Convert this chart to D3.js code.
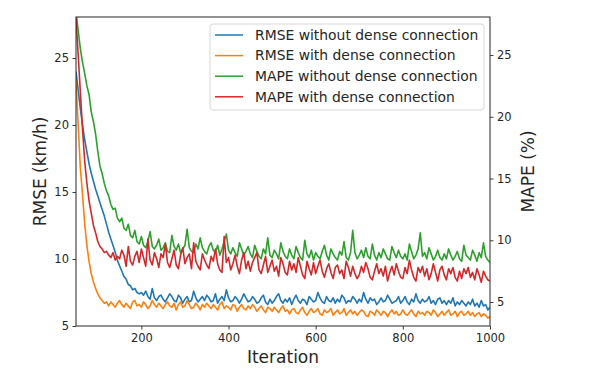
<!DOCTYPE html>
<html lang="en">
<head>
<meta charset="utf-8">
<title>RMSE / MAPE vs iteration</title>
<script src="https://d3js.org/d3.v7.min.js"></script>
<style>
  body { margin: 0; background: #fff; }
  text { font-family: "DejaVu Sans", sans-serif; fill: #262626; }
</style>
</head>
<body>
<script>
// iterations 50..1000, one sample every 5 iterations
const iterStart = 50, iterStep = 5;

const rmseWithout = [
  24.0, 22.6, 21.2, 20.0, 18.9, 18.0, 17.1, 16.4, 15.8, 15.2,
  14.7, 14.2, 13.7, 13.2, 12.6, 12.0, 11.5, 11.0, 10.5, 9.9,
  9.5, 9.1, 8.7, 8.5, 8.1, 8.0, 7.7, 7.8, 7.5, 7.4,
  7.5, 7.3, 7.6, 7.2, 7.0, 7.8, 7.1, 6.9, 7.2, 7.3,
  7.0, 6.8, 7.1, 7.4, 7.2, 6.9, 6.8, 7.3, 7.1, 6.7,
  7.0, 7.2, 6.8, 6.9, 7.6, 7.1, 6.8, 7.0, 7.2, 6.9,
  7.3, 7.1, 6.8, 6.9, 7.4, 6.7, 7.0, 7.2, 6.9, 7.7,
  7.1, 6.8, 6.9, 7.2, 7.0, 6.7, 7.0, 7.4, 7.1, 6.8,
  6.9, 7.2, 7.0, 6.7, 6.8, 7.1, 7.3, 6.8, 6.6, 7.0,
  6.7, 6.9, 7.2, 7.4, 6.9, 6.7, 7.0, 6.8, 7.1, 6.6,
  7.0, 7.3, 6.9, 6.7, 7.0, 6.9, 6.6, 7.2, 7.0, 6.8,
  6.9, 7.5, 7.1, 6.8, 6.7, 7.2, 6.9, 6.8, 7.1, 6.7,
  7.0, 6.8, 7.3, 7.1, 6.7, 6.9, 6.8, 7.2, 7.0, 6.7,
  7.0, 6.8, 7.5, 7.0, 6.7, 7.1, 6.9, 7.0, 6.6, 6.8,
  7.1, 6.8, 6.9, 7.3, 7.0, 6.7, 6.8, 6.9, 7.2, 6.7,
  6.9, 7.2, 6.8, 6.6, 7.0, 6.8, 7.4, 6.9, 6.7, 7.0,
  6.8, 6.9, 7.2, 6.7, 6.9, 6.6, 7.0, 7.1, 6.7, 6.9,
  6.6, 6.9, 6.7, 7.1, 6.5, 6.8, 6.6, 6.9, 6.7, 6.5,
  6.8, 6.6, 7.0, 6.5, 6.7, 6.4, 6.9, 6.5, 6.6, 6.2,
  6.4
];

const rmseWith = [
  23.3, 20.0, 16.8, 14.8, 12.6, 11.0, 9.8, 8.9, 8.3, 7.8,
  7.4, 7.1, 6.9, 6.7, 6.8, 6.5, 6.8, 6.6, 6.4, 6.7,
  6.9, 6.6, 6.4, 6.7, 6.5, 6.3, 6.8, 6.9, 6.5, 6.6,
  6.4, 6.8, 6.6, 6.3, 6.5, 6.9, 6.6, 6.4, 6.7, 6.5,
  6.3, 6.6, 6.8, 6.5, 6.4, 6.7, 6.2, 6.6, 6.8, 6.4,
  6.5, 6.9, 6.6, 6.3, 6.4, 6.7, 6.5, 6.2, 6.6, 6.4,
  6.7, 6.5, 6.3, 6.6, 6.4, 6.2, 6.6, 6.8, 6.3, 6.5,
  6.4, 6.2, 6.6, 6.5, 6.1, 6.4, 6.6, 6.3, 6.2, 6.5,
  6.3, 6.6, 6.4, 6.1, 6.3, 6.5, 6.2, 6.0, 6.4, 6.3,
  6.1, 6.4, 6.2, 6.0, 6.3, 6.5, 6.1, 6.2, 5.9, 6.2,
  6.3, 6.0, 5.9, 6.2, 6.4, 6.0, 5.8, 6.1, 6.3, 6.0,
  6.1, 6.3, 5.9, 5.8, 6.2, 6.0, 6.1, 6.3, 5.8, 6.0,
  6.2, 5.9, 6.0, 6.3, 5.8, 6.0, 6.2, 5.9, 6.1, 5.8,
  6.0, 6.2, 6.1, 5.8, 5.7, 6.1, 6.0, 5.8, 6.2, 6.0,
  5.8, 6.1, 6.0, 5.7, 6.0, 6.2, 5.9, 6.1, 5.8, 5.9,
  6.2, 5.9, 5.8, 6.0, 6.2, 5.9, 5.7, 6.1, 5.9, 6.0,
  5.8, 6.1, 6.0, 5.8, 6.2, 6.0, 5.7, 5.9, 6.1, 5.8,
  6.0, 6.2, 5.8, 5.9, 6.1, 5.7, 6.0, 6.1, 5.8, 5.9,
  6.1, 5.8, 6.0, 5.7, 5.9, 6.0, 5.7, 5.9, 5.8, 5.6,
  5.7
];

const mapeWithout = [
  28.5, 27.0, 25.5, 24.4, 23.5, 22.5, 21.8, 20.4, 19.6, 18.6,
  17.2, 16.0, 15.4, 14.6, 14.0, 13.6, 12.9, 12.5, 12.6, 11.8,
  11.5, 11.8, 11.0, 10.8, 11.3, 10.4, 10.2, 10.8, 9.9, 9.7,
  10.3, 9.6, 9.4, 9.9, 10.7, 9.5, 9.3, 9.6, 10.1, 9.2,
  9.4, 9.8, 9.1, 9.0, 10.4, 9.5, 9.2, 9.7, 9.0, 9.3,
  9.6, 10.9, 9.4, 9.1, 9.0, 9.7, 9.3, 10.2, 9.4, 9.1,
  8.9, 9.5, 9.8, 9.2, 9.0, 9.6, 8.8, 9.3, 9.9, 10.5,
  9.2, 8.9, 9.4, 9.0, 8.7, 9.8, 9.3, 8.8, 9.1, 9.5,
  8.9, 8.6, 9.6, 9.1, 8.7, 8.5, 9.3, 8.9, 10.2, 8.8,
  8.6, 9.2, 8.9, 8.5, 9.8, 9.1, 8.7, 8.5, 9.3, 8.8,
  8.5, 9.5, 9.0, 8.6, 8.4, 10.0, 8.9, 8.6, 9.2, 8.4,
  9.0, 8.7, 8.5, 9.1, 9.6, 8.8, 8.4, 9.3, 8.9, 8.6,
  8.4, 9.1, 8.8, 9.9, 8.6, 8.4, 9.0, 10.8, 9.0, 8.5,
  8.8, 9.2, 8.6, 9.4, 8.7, 8.5, 9.7, 8.8, 8.4, 9.0,
  8.6, 9.3, 8.9, 8.5, 8.4, 9.5, 9.0, 8.6, 9.2, 8.7,
  8.5, 8.9, 8.4, 9.7, 9.1, 8.5, 8.8, 9.3, 10.6, 8.7,
  9.0, 8.5, 9.4, 8.9, 8.4, 8.7, 9.2, 8.6, 8.4, 8.9,
  8.5, 9.3, 8.8, 8.4, 8.7, 9.1, 8.5, 8.3, 9.6, 8.8,
  8.6, 8.4, 9.2, 8.8, 8.3, 9.0, 8.6, 9.8, 8.7, 8.4,
  8.2
];

const mapeWith = [
  28.0, 25.0, 22.0, 19.0, 16.4, 14.6, 13.2, 12.2, 11.2, 10.6,
  9.9, 9.5, 9.3, 9.0, 9.1, 8.8, 8.6, 9.0, 8.4, 8.7,
  8.5, 9.2, 8.8, 7.9, 9.5, 8.3, 8.0, 8.7, 9.1, 8.2,
  9.3, 8.6, 7.9, 10.1, 8.4, 8.0, 9.0, 8.5, 7.8, 8.9,
  8.6, 9.7, 8.2, 7.8, 8.5, 9.2, 8.0, 7.7, 8.8, 9.4,
  8.1, 8.6, 8.9, 7.7, 9.8, 8.3, 7.9, 7.6, 8.9, 8.4,
  8.0, 7.7, 8.7, 8.3, 9.3, 8.1, 7.6, 7.4, 10.3, 8.2,
  8.6, 7.6, 8.1, 8.8, 7.9, 7.3, 8.4, 9.0, 7.7, 8.3,
  7.5, 8.2, 8.6, 9.0, 7.6, 7.3, 8.0, 8.7, 7.4, 7.9,
  8.4, 7.5, 7.9, 7.1, 8.6, 8.1, 7.4, 7.2, 8.3, 7.6,
  8.1, 7.4, 8.6, 7.9, 7.2, 6.9, 8.3, 7.7, 7.2, 8.2,
  7.3, 7.9, 8.4, 7.5, 7.0, 7.7, 8.1, 7.4, 6.9, 7.8,
  8.0, 7.3, 7.6, 6.9, 8.3, 7.8, 7.1, 7.9, 7.3, 6.9,
  7.2, 7.9, 7.4, 8.2, 7.7, 7.0, 6.8, 7.5, 8.1, 7.3,
  7.7, 7.1, 7.9, 6.7, 7.4, 7.9, 7.2, 8.1, 7.5, 7.0,
  6.9, 7.8, 7.3, 8.4, 7.6, 7.0, 6.7, 7.8, 7.4, 7.9,
  7.1, 7.7, 6.8, 7.3, 8.1, 7.4, 6.7, 7.6, 7.9, 7.2,
  6.8, 7.7, 7.3, 7.8, 7.0, 6.7, 7.5, 6.9, 7.7, 7.3,
  7.8, 7.0, 7.4, 6.8, 7.7, 7.2, 6.6, 7.5, 7.1, 6.8,
  6.7
];

const seriesNames = [
  "RMSE without dense connection",
  "RMSE with dense connection",
  "MAPE without dense connection",
  "MAPE with dense connection"
];
const seriesColors = ["#1f77b4", "#ff7f0e", "#2ca02c", "#d62728"];

const xTicks = [200, 400, 600, 800, 1000];
const leftTicks = [5, 10, 15, 20, 25];
const rightTicks = [5, 10, 15, 20, 25];

const w = 600, h = 373;
const margin = { left: 76, right: 110, top: 17, bottom: 47 };

const svg = d3.select("body").append("svg")
  .attr("width", w)
  .attr("height", h);

const x = d3.scaleLinear().domain([50, 1000]).range([margin.left, w - margin.right]);
const yLeft = d3.scaleLinear().domain([5, 28.06]).range([h - margin.bottom, margin.top]);
const yRight = d3.scaleLinear().domain([3.06, 28.08]).range([h - margin.bottom, margin.top]);

svg.append("clipPath").attr("id", "plot-clip")
  .append("rect")
  .attr("x", margin.left).attr("y", margin.top)
  .attr("width", w - margin.left - margin.right)
  .attr("height", h - margin.top - margin.bottom);

const series = [
  { values: rmseWithout, y: yLeft },
  { values: rmseWith, y: yLeft },
  { values: mapeWithout, y: yRight },
  { values: mapeWith, y: yRight }
];

const plot = svg.append("g").attr("clip-path", "url(#plot-clip)");

series.forEach((s, k) => {
  const line = d3.line()
    .x((d, i) => x(iterStart + i * iterStep))
    .y(d => s.y(d));
  plot.append("path")
    .datum(s.values)
    .attr("fill", "none")
    .attr("stroke", seriesColors[k])
    .attr("stroke-width", 1.6)
    .attr("stroke-linejoin", "round")
    .attr("d", line);
});

// axes
const styleAxis = g => {
  g.selectAll(".domain").remove();
  g.selectAll(".tick line").attr("stroke", "#262626").attr("stroke-width", 0.9);
  g.selectAll(".tick text")
    .style("font-family", "DejaVu Sans, sans-serif")
    .style("font-size", "11.5px")
    .attr("fill", "#262626");
};

svg.append("g")
  .attr("transform", "translate(0," + (h - margin.bottom) + ")")
  .call(d3.axisBottom(x).tickValues(xTicks).tickFormat(d3.format("d")).tickSize(3.5).tickPadding(4))
  .call(styleAxis);

svg.append("g")
  .attr("transform", "translate(" + margin.left + ",0)")
  .call(d3.axisLeft(yLeft).tickValues(leftTicks).tickSize(3.5).tickPadding(3.5))
  .call(styleAxis);

svg.append("g")
  .attr("transform", "translate(" + (w - margin.right) + ",0)")
  .call(d3.axisRight(yRight).tickValues(rightTicks).tickSize(3.5).tickPadding(3.5))
  .call(styleAxis);

// frame
svg.append("rect")
  .attr("x", margin.left).attr("y", margin.top)
  .attr("width", w - margin.left - margin.right)
  .attr("height", h - margin.top - margin.bottom)
  .attr("fill", "none")
  .attr("stroke", "#262626")
  .attr("stroke-width", 1);

// axis labels
svg.append("text")
  .attr("x", (margin.left + w - margin.right) / 2)
  .attr("y", 363)
  .attr("text-anchor", "middle")
  .style("font-size", "17px")
  .text("Iteration");

svg.append("text")
  .attr("transform", "translate(46," + ((margin.top + h - margin.bottom) / 2) + ") rotate(-90)")
  .attr("text-anchor", "middle")
  .style("font-size", "17px")
  .text("RMSE (km/h)");

svg.append("text")
  .attr("transform", "translate(534," + ((margin.top + h - margin.bottom) / 2) + ") rotate(-90)")
  .attr("text-anchor", "middle")
  .style("font-size", "17px")
  .text("MAPE (%)");

// legend
const legend = svg.append("g").attr("transform", "translate(210,24)");
legend.append("rect")
  .attr("width", 274).attr("height", 86)
  .attr("rx", 3)
  .attr("fill", "#fff").attr("fill-opacity", 0.8)
  .attr("stroke", "#d8d8d8");

seriesNames.forEach((name, k) => {
  const row = legend.append("g").attr("transform", "translate(0," + (11 + k * 20.6) + ")");
  row.append("line")
    .attr("x1", 5).attr("x2", 33)
    .attr("stroke", seriesColors[k]).attr("stroke-width", 1.5);
  row.append("text")
    .attr("x", 45).attr("dy", "0.35em")
    .style("font-size", "13.9px")
    .text(name);
});
</script>
</body>
</html>
